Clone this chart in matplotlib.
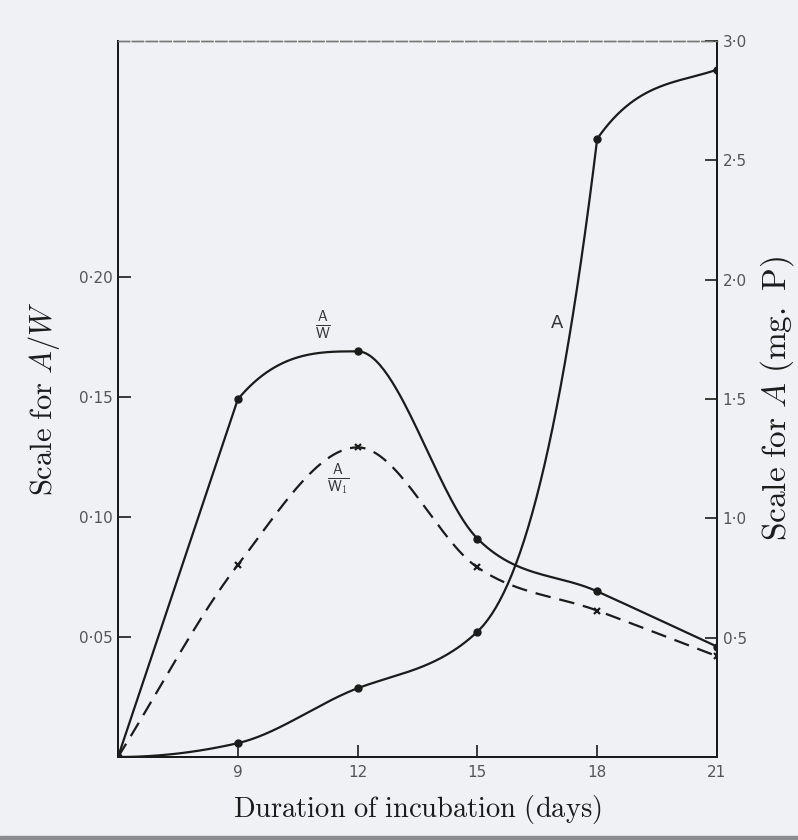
import numpy as np
import matplotlib
matplotlib.use("Agg")
import matplotlib.pyplot as plt
from matplotlib.patches import Rectangle

plt.rcParams['mathtext.fontset'] = 'cm'

# ---------------- data ----------------
days = [6, 9, 12, 15, 18, 21]
a_over_w = [0.0, 0.149, 0.169, 0.091, 0.069, 0.046]      # solid, left scale
a_over_w1 = [0.0, 0.080, 0.129, 0.079, 0.061, 0.042]     # dashed, left scale
a_mg_p = [0.0, 0.058, 0.288, 0.525, 2.59, 2.88]          # solid, right scale

x_ticks = [9, 12, 15, 18, 21]
x_ticklabels = ["9", "12", "15", "18", "21"]
left_ticks = [0.05, 0.10, 0.15, 0.20]
left_ticklabels = ["0·05", "0·10", "0·15", "0·20"]
right_ticks = [0.5, 1.0, 1.5, 2.0, 2.5, 3.0]
right_ticklabels = ["0·5", "1·0", "1·5", "2·0", "2·5", "3·0"]


def fc_tangents(x, y):
    """Fritsch-Carlson monotone tangents (arithmetic mean, limited)."""
    x = np.asarray(x, float)
    y = np.asarray(y, float)
    s = np.diff(y) / np.diff(x)
    n = len(x)
    d = np.zeros(n)
    d[0], d[-1] = s[0], s[-1]
    for k in range(1, n - 1):
        if s[k - 1] * s[k] <= 0:
            d[k] = 0.0
        else:
            m = 0.5 * (s[k - 1] + s[k])
            lim = 3 * min(abs(s[k - 1]), abs(s[k]))
            d[k] = np.sign(m) * min(abs(m), lim)
    return d, d.copy()


def hermite(x, y, d_in, d_out, per_seg=60):
    """Piecewise cubic Hermite drawing through the points; d_in is the
    tangent arriving at a knot, d_out the tangent leaving it."""
    x = np.asarray(x, float)
    y = np.asarray(y, float)
    xs_all, ys_all = [], []
    for k in range(len(x) - 1):
        h = x[k + 1] - x[k]
        t = np.linspace(0, 1, per_seg)
        h00 = 2 * t**3 - 3 * t**2 + 1
        h10 = t**3 - 2 * t**2 + t
        h01 = -2 * t**3 + 3 * t**2
        h11 = t**3 - t**2
        ys = h00 * y[k] + h10 * h * d_out[k] + h01 * y[k + 1] + h11 * h * d_in[k + 1]
        xs_all.append(x[k] + t * h)
        ys_all.append(ys)
    return np.concatenate(xs_all), np.concatenate(ys_all)


bg = '#eff1f4'
ink = '#1b1b1b'

fig = plt.figure(figsize=(7.98, 8.40), dpi=100, facecolor=bg)
ax = fig.add_axes([118 / 798, 1 - 757 / 840, (717 - 118) / 798, (757 - 41) / 840])
ax.set_facecolor(bg)
ax2 = ax.twinx()

ax.set_xlim(6, 21)
ax.set_ylim(0, 0.2983)
ax2.set_ylim(0, 2.983)

# A/W : hand-drawn look, straight rise into day 9 then a bend
di, do = fc_tangents(days, a_over_w)
s = np.diff(a_over_w) / np.diff(days)
di[1] = s[0]
do[1] = min(do[1], 3 * s[1])
cx, cy = hermite(days, a_over_w, di, do)
ax.plot(cx, cy, color=ink, lw=1.6)
ax.plot(days, a_over_w, 'o', color=ink, ms=5)

# A/W1 : dashed
di, do = fc_tangents(days, a_over_w1)
cx, cy = hermite(days, a_over_w1, di, do)
ax.plot(cx, cy, color=ink, lw=1.6, linestyle=(0, (7, 4)))
ax.plot(days[1:], a_over_w1[1:], 'x', color=ink, ms=4.5, mew=1.6)

# A : slow start, steep climb into day 18, then levelling off
di, do = fc_tangents(days, a_mg_p)
s = np.diff(a_mg_p) / np.diff(days)
do[0] = 0.0
di[1] = do[1] = 0.5 * s[1]
di[2] = do[2] = 0.8 * s[2]
di[3] = do[3] = 2.0 * s[2]
di[4] = 2.0 * s[3]
do[4] = 2.5 * s[4]
di[5] = 0.6 * s[4]
cx, cy = hermite(days, a_mg_p, di, do)
ax2.plot(cx, cy, color=ink, lw=1.6)
ax2.plot(days, a_mg_p, 'o', color=ink, ms=5)

# curve labels
ax.text(11.13, 0.180, r'$\frac{\mathsf{A}}{\mathsf{W}}$', fontsize=15,
        ha='center', va='center', color='#333')
ax.text(11.51, 0.116, r'$\frac{\mathsf{A}}{\mathsf{W}_{1}}$', fontsize=15,
        ha='center', va='center', color='#333')
ax2.text(16.99, 1.82, 'A', fontsize=13, ha='center', va='center', color='#333')

# ticks
ax.set_xticks(x_ticks)
ax.set_xticklabels(x_ticklabels)
ax.set_yticks(left_ticks)
ax.set_yticklabels(left_ticklabels)
ax2.set_yticks(right_ticks)
ax2.set_yticklabels(right_ticklabels)
for a in (ax, ax2):
    a.tick_params(direction='in', length=9, width=1.2, colors=ink,
                  labelcolor='#555', labelsize=11, pad=4)
ax.tick_params(axis='x', pad=6)

for a in (ax, ax2):
    for side in ('left', 'right', 'bottom'):
        a.spines[side].set_color(ink)
        a.spines[side].set_linewidth(1.4)
    a.spines['top'].set_color('#777')
    a.spines['top'].set_linewidth(1.0)
    a.spines['top'].set_linestyle((0, (8, 2)))

ax.set_xlabel(r'$\mathrm{Duration\ of\ incubation\ (days)}$', fontsize=20.5,
              color=ink, labelpad=9)
ax.set_ylabel(r'$\mathrm{Scale\ for\ }A/W$', fontsize=22, color=ink, labelpad=12)
ax2.set_ylabel(r'$\mathrm{Scale\ for\ }A\mathrm{\ (mg.\ P)}$', fontsize=24,
               color=ink, labelpad=8, rotation=90)

fig.patches.append(Rectangle((0, 0), 1, 4 / 840, transform=fig.transFigure,
                             color='#8a8c90', zorder=0))

fig.savefig('out.png', dpi=100, facecolor=bg)
